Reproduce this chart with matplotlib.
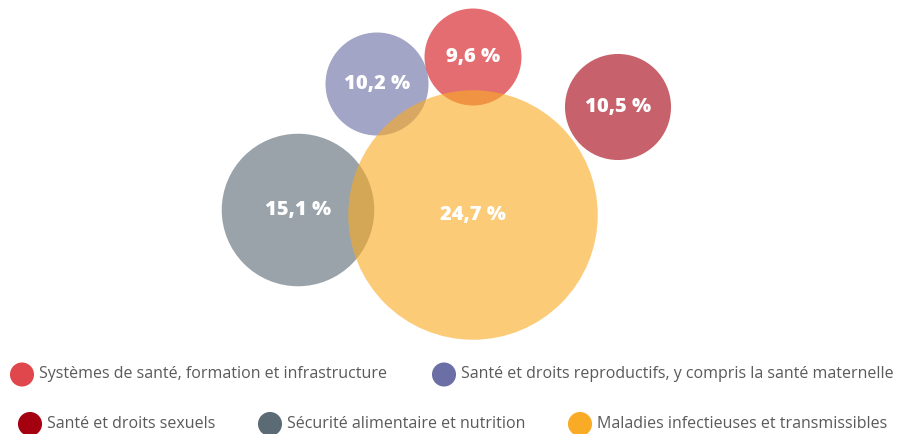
import matplotlib.pyplot as plt
from matplotlib.patches import Circle

# données
categories = [
    "Systèmes de santé, formation et infrastructure",
    "Santé et droits reproductifs, y compris la santé maternelle",
    "Santé et droits sexuels",
    "Sécurité alimentaire et nutrition",
    "Maladies infectieuses et transmissibles",
]
values = [9.6, 10.2, 10.5, 15.1, 24.7]
legend_colors = ["#E0474C", "#6B6FA6", "#A50010", "#5B6B75", "#F9AB25"]
bubble_colors = ["#D4141C", "#6B6FA6", "#A50010", "#5B6B75", "#F9AB25"]

# disposition des bulles (pixels)
centers = [(473, 57), (377, 84), (618, 107), (298, 210), (473, 215)]
px_per_unit = 5.05
leg_pos = [(22, 374.5), (444, 374.5), (30, 424), (270, 424), (580, 424)]

fig = plt.figure(figsize=(9.01, 4.34), dpi=100)
ax = fig.add_axes([0, 0, 1, 1])
ax.set_xlim(0, 901)
ax.set_ylim(434, 0)
ax.set_aspect('equal')
ax.axis('off')

# ordre de dessin : petites bulles d'abord, orange au-dessus
order = [3, 1, 0, 2, 4]
for i in order:
    cx, cy = centers[i]
    ax.add_patch(Circle((cx, cy), values[i] * px_per_unit,
                        facecolor=bubble_colors[i], edgecolor='none', alpha=0.62))
for i in order:
    cx, cy = centers[i]
    ax.text(cx, cy, f"{values[i]:.1f} %".replace('.', ','), ha='center', va='center',
            color='white', fontsize=14.5, fontweight='heavy', family='Open Sans')

# légende
for (lx, ly), lab, col in zip(leg_pos, categories, legend_colors):
    ax.scatter([lx], [ly], s=300, color=col, edgecolor='none', clip_on=False)
    ax.text(lx + 17, ly, lab, ha='left', va='center', color='#5a5a5a',
            fontsize=11.5, family='Open Sans')

fig.savefig('out.png', dpi=100)
